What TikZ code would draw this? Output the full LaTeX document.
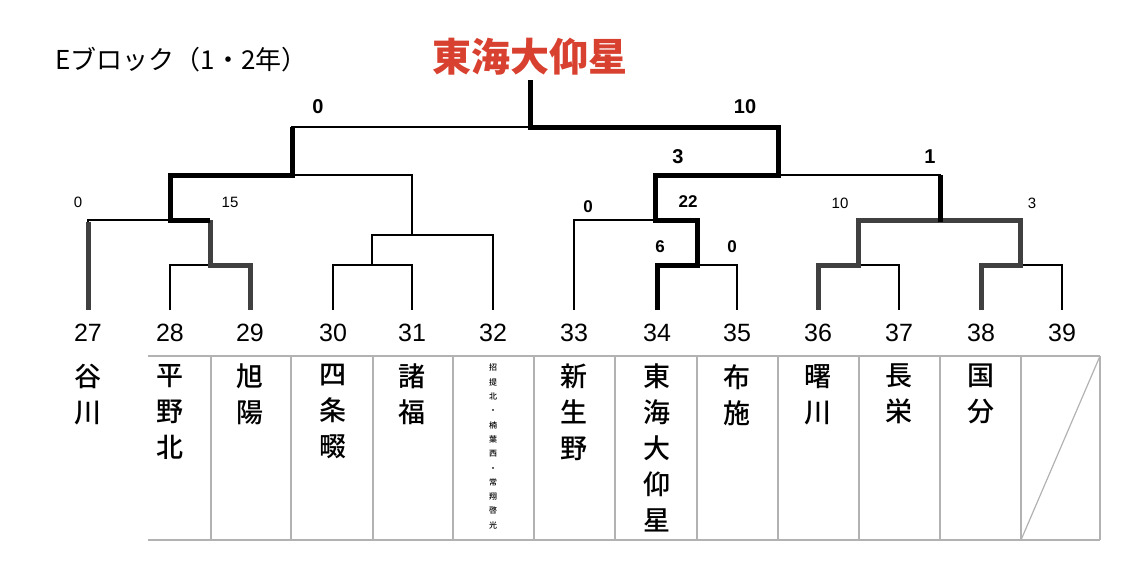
\documentclass[tikz,border=0pt]{standalone}
\usepackage{fontspec}
\setmainfont{Liberation Sans}
\newfontfamily\cjk{Noto Sans CJK JP}
\newfontfamily\cjkb{Noto Sans CJK JP}[UprightFont=* Medium]
\definecolor{winred}{HTML}{D8402F}
\begin{document}
\begin{tikzpicture}[x=1pt,y=-1pt,
  ln/.style={line width=1.3pt},
  th/.style={line width=5pt},
  gt/.style={line width=5pt,draw=black!75},
  sc/.style={font=\bfseries\fontsize{20}{20}\selectfont},
  ss/.style={font=\fontsize{15}{15}\selectfont},
  num/.style={font=\fontsize{25}{25}\selectfont},
  nm/.style={font=\cjkb\fontsize{27}{36}\selectfont,align=center,anchor=north,inner sep=0pt},
  grid/.style={draw=black!30,line width=1.2pt}]
\useasboundingbox (0,0) rectangle (1121,586);
\foreach \i/\x in {27/88,28/170,29/250,30/333,31/412,32/493,33/574,34/657,35/737,36/818,37/899,38/981,39/1062}{
  \coordinate (b\i) at (\x,310);
  \node[num] (n\i) at (\x,333) {\i};
}
\draw[grid] (148,356) -- (1100,356);
\draw[grid] (148,540) -- (1100,540);
\foreach \x in {211,291,373,453,534,615,697,778,859,940,1021,1100}{\draw[grid] (\x,356) -- (\x,540);}
\draw[grid] (1021,540) -- (1100,356);
\node[nm] (t27) at (88,364) {谷\\川};
\node[nm] (t28) at (170,364) {平\\野\\北};
\node[nm] (t29) at (250,364) {旭\\陽};
\node[nm] (t30) at (333,364) {四\\条\\畷};
\node[nm] (t31) at (412,364) {諸\\福};
\node[nm,font=\cjkb\fontsize{8}{14.3}\selectfont] (t32) at (493,364) {招\\提\\北\\・\\楠\\葉\\西\\・\\常\\翔\\啓\\光};
\node[nm] (t33) at (574,364) {新\\生\\野};
\node[nm] (t34) at (657,364) {東\\海\\大\\仰\\星};
\node[nm] (t35) at (737,364) {布\\施};
\node[nm] (t36) at (818,364) {曙\\川};
\node[nm] (t37) at (899,364) {長\\栄};
\node[nm] (t38) at (981,364) {国\\分};
\node[font=\cjk\fontsize{26}{26}\selectfont,anchor=west] (title) at (52,60) {Eブロック（1・2年）};
\node[font=\cjk\bfseries\fontsize{39}{39}\selectfont,text=winred] (champ) at (530,57) {東海大仰星};
\draw[ln] (b28) |- (210,265) -| (b29);
\draw[ln] (b27) |- (210,220);
\draw[ln] (b30) |- (372,265) -| (b31);
\draw[ln] (372,265) |- (493,235) -- (b32);
\draw[ln] (412,235) |- (170,175);
\draw[ln] (b34) |- (697,265) -| (b35);
\draw[ln] (b33) |- (697,220);
\draw[ln] (b36) |- (858,265) -| (b37);
\draw[ln] (b38) |- (1020,265) -| (b39);
\draw[ln] (858,265) |- (1020,220);
\draw[ln] (940,220) |- (655,175);
\draw[ln] (292,175) |- (778,127);
\draw[gt] (b27) -- (88,222);
\draw[gt] (b29) |- (210,265) -- (210,220);
\draw[th,line join=miter] (210,220) -| (170,175) -| (292,127);
\draw[th,line join=miter] (b34) |- (697,265) |- (655,220) |- (778,175) |- (530,127) -- (530,80);
\draw[gt] (b36) |- (858,265) |- (940,220);
\draw[gt] (b38) |- (1020,265) |- (940,220);
\draw[th] (940,222) -- (940,175);
\node[sc] (s1) at (318,107) {0};
\node[sc] (s2) at (745,107) {10};
\node[sc] (s3) at (678,157) {3};
\node[sc] (s4) at (930,157) {1};
\node[ss] (s5) at (78,202) {0};
\node[ss] (s6) at (230,202) {15};
\node[sc,font=\bfseries\fontsize{17}{17}\selectfont] (s7) at (588,207) {0};
\node[sc,font=\bfseries\fontsize{17}{17}\selectfont] (s8) at (688,202) {22};
\node[sc,font=\bfseries\fontsize{17}{17}\selectfont] (s9) at (660,247) {6};
\node[sc,font=\bfseries\fontsize{17}{17}\selectfont] (s10) at (732,247) {0};
\node[ss] (s11) at (840,203) {10};
\node[ss] (s12) at (1032,203) {3};
\end{tikzpicture}
\end{document}
